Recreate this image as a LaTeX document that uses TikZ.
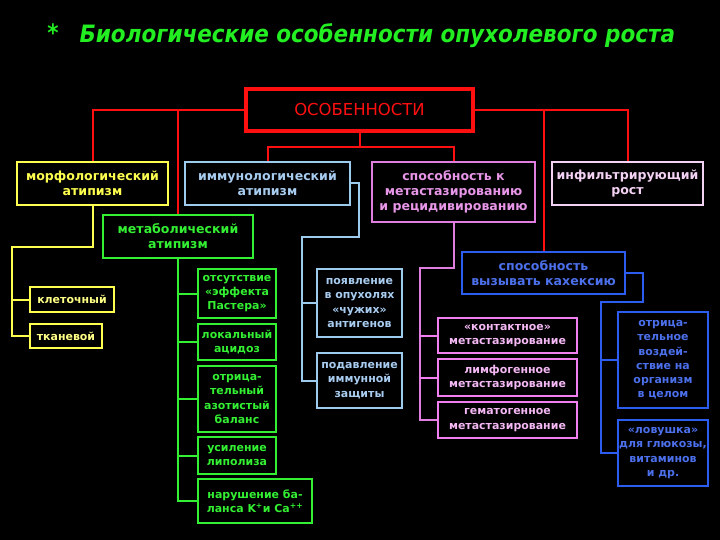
\documentclass[tikz,border=0pt]{standalone}
\usepackage{fontspec}
\setmainfont{DejaVu Sans}
\newfontfamily\titlefont{DejaVu Sans Condensed}
\usetikzlibrary{positioning}
\definecolor{osred}{HTML}{FF1010}
\definecolor{osyellow}{HTML}{FFFF50}
\definecolor{oslblue}{HTML}{9CCBEE}
\definecolor{oslbtext}{HTML}{A8CCF0}
\definecolor{osgreen}{HTML}{33F033}
\definecolor{ospink}{HTML}{E07EE0}
\definecolor{ospinktext}{HTML}{E896E8}
\definecolor{oslpink}{HTML}{F4D2F4}
\definecolor{osmagenta}{HTML}{F080F0}
\definecolor{osmagtext}{HTML}{F4B8F4}
\definecolor{osblue}{HTML}{2C5CF0}
\definecolor{osbtext}{HTML}{4C70EC}
\definecolor{ostitle}{HTML}{22EE22}

\begin{document}
\begin{tikzpicture}[
  x=1bp, y=-1bp,
  box/.style={draw, line width=2.4bp, fill=black, align=center, inner sep=1bp},
  sz/.style 2 args={minimum width=#1bp, minimum height=#2bp},
  big/.style={font=\bfseries\fontsize{12.6}{15}\selectfont},
  small/.style={font=\bfseries\fontsize{11}{14.3}\selectfont},
  wire/.style={line width=2bp}
]
  % background
  \fill[black] (0,0) rectangle (720,540);

  % --- Title ---
  \node[text=ostitle, font=\titlefont\bfseries\itshape\fontsize{24}{28}\selectfont] (star) at (53,33) {*};
  \node[text=ostitle, font=\titlefont\bfseries\itshape\fontsize{24}{28}\selectfont, anchor=west] (title) at (76,36)
    {Биологические особенности опухолевого роста};

  % --- Top ---
  \node[box, draw=osred, line width=4.5bp, sz={227}{42}, text=osred, font=\fontsize{16.5}{19}\selectfont] (top) at (359.5,110) {ОСОБЕННОСТИ};

  % --- Second row ---
  \node[box, draw=osyellow, text=osyellow, big, sz={151}{43}] (morph) at (92.5,183.5) {морфологический\\атипизм};
  \node[box, draw=oslblue, text=oslbtext, big, sz={165}{43}] (immuno) at (267.5,183.5) {иммунологический\\атипизм};
  \node[box, draw=ospink, text=ospinktext, big, sz={163}{60}] (spos) at (453.5,192) {способность к\\метастазированию\\и рецидивированию};
  \node[box, draw=oslpink, text=oslpink, big, sz={151}{43}] (infil) at (627.5,183.5) {инфильтрирующий\\рост};
  \node[box, draw=osgreen, text=osgreen, big, sz={150}{43}] (metab) at (178,236.5) {метаболический\\атипизм};
  \node[box, draw=osblue, text=osbtext, big, sz={163}{42}] (cach) at (543.5,273) {способность\\вызывать кахексию};

  % --- Morphological ---
  \node[box, draw=osyellow, text=osyellow!70!white, small, sz={84}{25}] (klet) at (72,299.5) {клеточный};
  \node[box, draw=osyellow, text=osyellow!70!white, small, sz={72}{24}] (tkan) at (66,336) {тканевой};

  % --- Metabolic ---
  \node[box, draw=osgreen, text=osgreen, small, sz={78}{49}] (past) at (237,293.5) {отсутствие\\«эффекта\\Пастера»};
  \node[box, draw=osgreen, text=osgreen, small, sz={78}{36}] (acid) at (237,342) {локальный\\ацидоз};
  \node[box, draw=osgreen, text=osgreen, small, sz={78}{66}] (azot) at (237,399) {отрица-\\тельный\\азотистый\\баланс};
  \node[box, draw=osgreen, text=osgreen, small, sz={78}{37}] (lipo) at (237,455.5) {усиление\\липолиза};
  \node[box, draw=osgreen, text=osgreen, small, sz={114}{44}] (kalc) at (255,501) {нарушение ба-\\ланса K\textsuperscript{+}и Ca\textsuperscript{++}};

  % --- Immunological ---
  \node[box, draw=oslblue, text=oslbtext, small, sz={85}{68}] (anti) at (359.5,303) {появление\\в опухолях\\«чужих»\\антигенов};
  \node[box, draw=oslblue, text=oslbtext, small, sz={85}{55}] (supp) at (359.5,380.5) {подавление\\иммунной\\защиты};

  % --- Metastasis ---
  \node[box, draw=osmagenta, text=osmagtext, small, sz={139}{35}] (cont) at (507.5,335.5) {«контактное»\\метастазирование};
  \node[box, draw=osmagenta, text=osmagtext, small, sz={139}{37}] (lymph) at (507.5,377.5) {лимфогенное\\метастазирование};
  \node[box, draw=osmagenta, text=osmagtext, small, sz={139}{36}] (hemat) at (507.5,420) {гематогенное\\метастазирование};

  % --- Cachexia ---
  \node[box, draw=osblue, text=osbtext, small, sz={90}{96}] (orga) at (663,360) {отрица-\\тельное\\воздей-\\ствие на\\организм\\в целом};
  \node[box, draw=osblue, text=osbtext, small, sz={90}{66}] (trap) at (663,453) {«ловушка»\\для глюкозы,\\витаминов\\и др.};

  % --- Red connectors ---
  \coordinate (tb) at (359.5,147);
  \draw[wire, osred] (top.west) -| (morph.north);
  \draw[wire, osred] (top.west -| metab.north) -- (metab.north);
  \draw[wire, osred] (top.east) -| (infil.north);
  \draw[wire, osred] (top.east -| cach.north) -- (cach.north);
  \draw[wire, osred] (top.south) -- (tb);
  \draw[wire, osred] (tb) -| (immuno.north);
  \draw[wire, osred] (tb) -| (spos.north);

  % --- Yellow ---
  \coordinate (yturn) at (12,247);
  \draw[wire, osyellow] (morph.south) |- (yturn) |- (tkan.west);
  \draw[wire, osyellow] (yturn |- klet.west) -- (klet.west);

  % --- Green ---
  \draw[wire, osgreen] (metab.south) |- (kalc.west);
  \foreach \n in {past,acid,azot,lipo}
    \draw[wire, osgreen] (metab.south |- \n.west) -- (\n.west);

  % --- Light blue ---
  \coordinate (lbturn) at (302,237);
  \draw[wire, oslblue] (immuno.east) -- ++(8,0) |- (lbturn) |- (supp.west);
  \draw[wire, oslblue] (lbturn |- anti.west) -- (anti.west);

  % --- Pink ---
  \coordinate (pturn) at (420,268);
  \draw[wire, ospink] (spos.south) |- (pturn) |- (hemat.west);
  \foreach \n in {cont,lymph}
    \draw[wire, osmagenta] (pturn |- \n.west) -- (\n.west);

  % --- Blue ---
  \coordinate (bturn) at (601,302);
  \draw[wire, osblue] (cach.east) -- ++(17,0) |- (bturn) |- (trap.west);
  \draw[wire, osblue] (bturn |- orga.west) -- (orga.west);
\end{tikzpicture}
\end{document}
